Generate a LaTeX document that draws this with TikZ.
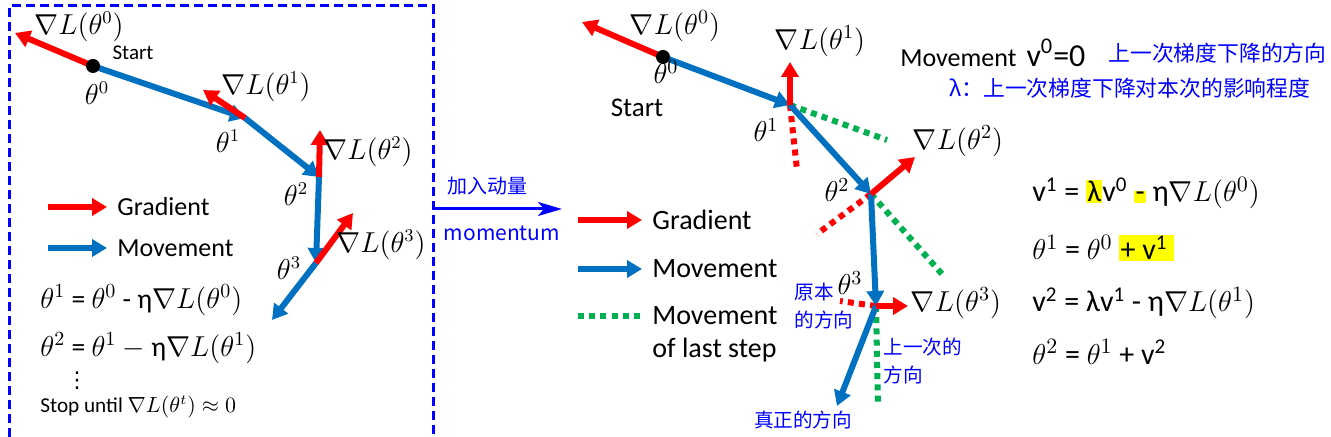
\documentclass[tikz,border=0pt]{standalone}
\usepackage{fontspec}
\setmainfont{Carlito}
\newfontfamily\cjk{Noto Sans CJK SC}
\newfontfamily\symfont{DejaVu Sans}
\usepackage{xcolor}
\usetikzlibrary{arrows.meta,positioning}
\definecolor{gradred}{RGB}{255,0,0}
\definecolor{moveblue}{RGB}{0,112,192}
\definecolor{lastgreen}{RGB}{0,176,80}
\definecolor{noteblue}{RGB}{0,0,255}
\definecolor{hlyellow}{RGB}{255,255,0}
\newcommand{\hlbox}[1]{{\setlength{\fboxsep}{0.6pt}\colorbox{hlyellow}{#1}}}

\begin{document}
\begin{tikzpicture}[
    x=0.5pt, y=-0.5pt,
    grad/.style={-{Triangle[length=7.5pt,width=8.5pt]}, line width=3pt, draw=gradred},
    move/.style={-{Triangle[length=7.5pt,width=8.5pt]}, line width=3pt, draw=moveblue},
    oldgrad/.style={line width=3pt, draw=gradred, dash pattern=on 3pt off 2.6pt},
    last/.style={line width=3pt, draw=lastgreen, dash pattern=on 3pt off 2.6pt},
    txt/.style={inner sep=1pt, font=\fontsize{13}{15}\selectfont},
    eqn/.style={inner sep=1pt, anchor=west, font=\fontsize{13.8}{15}\selectfont},
    bigeqn/.style={inner sep=1pt, anchor=west, font=\fontsize{15}{17}\selectfont},
    mlbl/.style={inner sep=1pt, font=\fontsize{13.5}{15}\selectfont},
    bigmlbl/.style={inner sep=1pt, font=\fontsize{14.5}{16}\selectfont},
    note/.style={inner sep=1pt, text=noteblue, font=\cjk\fontsize{9.8}{14}\selectfont},
    dot/.style={circle, fill=black, inner sep=0pt, minimum size=7pt}
]
\useasboundingbox (0,0) rectangle (1331,437);

\draw[noteblue, line width=1.5pt, dash pattern=on 4.5pt off 2.5pt] (9,437) -- (9,6) -- (433,6) -- (433,437);

\coordinate (a0) at (93,66);
\coordinate (g0) at (15,33);
\coordinate (a1) at (245,118);
\coordinate (g1) at (203,90);
\coordinate (a2) at (319,177);
\coordinate (g2) at (320,130);
\coordinate (a3) at (316,263);
\coordinate (g3) at (353,213);
\coordinate (a4) at (272,320);

\draw[move] (a0) -- (a1);
\draw[move] (a1) -- (a2);
\draw[move] (a2) -- (a3);
\draw[move] (a3) -- (a4);
\draw[grad] (a0) -- (g0);
\draw[grad] (a1) -- (g1);
\draw[grad] (a2) -- (g2);
\draw[grad] (a3) -- (g3);
\node[dot] (start0) at (a0) {};

\node[mlbl] (lg0) at (79,27) {$\nabla L(\theta^0)$};
\node[inner sep=1pt, font=\fontsize{10.5}{12}\selectfont] (lstart) at (133,53) {Start};
\node[mlbl] (lt0) at (97,93) {$\theta^0$};
\node[mlbl] (lg1) at (266,87) {$\nabla L(\theta^1)$};
\node[mlbl] (lt1) at (228,141) {$\theta^1$};
\node[mlbl] (lg2) at (368,152) {$\nabla L(\theta^2)$};
\node[mlbl] (lt2) at (296,194) {$\theta^2$};
\node[mlbl] (lg3) at (381,245) {$\nabla L(\theta^3)$};
\node[mlbl] (lt3) at (289,268) {$\theta^3$};

\coordinate (lgA) at (48,207);
\coordinate (lgB) at (107,207);
\coordinate (lmA) at (48,248);
\coordinate (lmB) at (107,248);
\draw[grad] (lgA) -- (lgB);
\draw[move] (lmA) -- (lmB);
\node[txt, right=4pt of lgB] (lgrad) {Gradient};
\node[txt, right=4pt of lmB] (lmove) {Movement};

\node[eqn] (leq1) at (38,300) {$\theta^1$ = $\theta^0$ - η$\nabla L(\theta^0)$};
\node[eqn] (leq2) at (38,348) {$\theta^2$ = $\theta^1$ $-$ η$\nabla L(\theta^1)$};
\node[inner sep=0pt, font=\symfont\fontsize{11}{12}\selectfont] (ldots) at (77,381) {⋮};
\node[eqn, font=\fontsize{10.6}{12}\selectfont] (lstop) at (38,407) {Stop until $\nabla L(\theta^t) \approx 0$};

\coordinate (mS) at (433,209);
\coordinate (mE) at (562,209);
\draw[noteblue, line width=1.5pt, -{Stealth[length=12pt,width=7pt,inset=3pt]}] (mS) -- (mE);
\node[note, font=\cjk\fontsize{10}{12}\selectfont] (madd) at (487,186) {加入动量};
\node[note, font=\cjk\fontsize{10.5}{12}\selectfont] (mmom) at (502,233) {momentum};

\coordinate (rgA) at (578,220);
\coordinate (rgB) at (642,220);
\coordinate (rmA) at (578,269);
\coordinate (rmB) at (642,269);
\coordinate (rlA) at (578,316);
\coordinate (rlB) at (642,316);
\draw[grad] (rgA) -- (rgB);
\draw[move] (rmA) -- (rmB);
\draw[last] (rlA) -- (rlB);
\node[txt, font=\fontsize{14}{16}\selectfont, right=4pt of rgB] (rgrad) {Gradient};
\node[txt, font=\fontsize{14}{16}\selectfont, right=4pt of rmB] (rmove) {Movement};
\node[txt, font=\fontsize{14}{16}\selectfont, right=4pt of rlB] (rlast) {Movement};
\node[txt, font=\fontsize{14}{16}\selectfont, below=4pt of rlast.south west, anchor=north west] (rlast2) {of last step};

\coordinate (b0) at (663,57);
\coordinate (h0) at (582,22);
\coordinate (b1) at (790,105);
\coordinate (h1) at (790,62);
\coordinate (o1) at (797,170);
\coordinate (p1) at (887,140);
\coordinate (b2) at (871,194);
\coordinate (h2) at (915,157);
\coordinate (o2) at (817,234);
\coordinate (p2) at (942,274);
\coordinate (b3) at (876,306);
\coordinate (h3) at (908,306);
\coordinate (o3) at (840,301);
\coordinate (p3) at (878,406);
\coordinate (b4) at (837,406);

\draw[oldgrad] (b1) -- (o1);
\draw[last] (b1) -- (p1);
\draw[oldgrad] (b2) -- (o2);
\draw[last] (b2) -- (p2);
\draw[oldgrad] (b3) -- (o3);
\draw[last] (b3) -- (p3);
\draw[move] (b0) -- (b1);
\draw[move] (b1) -- (b2);
\draw[move] (b2) -- (b3);
\draw[move] (b3) -- (b4);
\draw[grad] (b0) -- (h0);
\draw[grad] (b1) -- (h1);
\draw[grad] (b2) -- (h2);
\draw[grad] (b3) -- (h3);
\node[dot] (start1) at (b0) {};

\node[bigmlbl] (rg0) at (675,26) {$\nabla L(\theta^0)$};
\node[bigmlbl] (rt0) at (666,72) {$\theta^0$};
\node[txt, font=\fontsize{13.5}{16}\selectfont] (rstart) at (637,108) {Start};
\node[bigmlbl] (rg1) at (820,41) {$\nabla L(\theta^1)$};
\node[bigmlbl] (rt1) at (766,130) {$\theta^1$};
\node[bigmlbl] (rg2) at (958,141) {$\nabla L(\theta^2)$};
\node[bigmlbl] (rt2) at (837,190) {$\theta^2$};
\node[bigmlbl] (rt3) at (850,283) {$\theta^3$};
\node[bigmlbl] (rg3) at (956,303) {$\nabla L(\theta^3)$};

\node[note, align=left, anchor=west] (orig) at (792,306) {原本\\的方向};
\node[note, align=left, anchor=west] (prev) at (881,361) {上一次的\\方向};
\node[note] (real) at (803,420) {真正的方向};

\node[txt, anchor=west] (mv0) at (898,53) {Movement\hspace{5pt}{\fontsize{16}{18}\selectfont v\textsuperscript{0}=0}};
\node[note, anchor=west, font=\cjk\fontsize{10.9}{13}\selectfont] (mvnote) at (1106,53) {上一次梯度下降的方向};
\node[note, anchor=west, font=\cjk\fontsize{10.9}{13}\selectfont] (lamnote) at (947,88) {λ：上一次梯度下降对本次的影响程度};

\node[bigeqn] (req1) at (1030,193) {v\textsuperscript{1} = \hlbox{λ}v\textsuperscript{0} \hlbox{-} η$\nabla L(\theta^0)$};
\node[bigeqn] (req2) at (1030,248) {$\theta^1$ = $\theta^0$ \hlbox{+ v\textsuperscript{1}\,}};
\node[bigeqn] (req3) at (1030,303) {v\textsuperscript{2} = λv\textsuperscript{1} - η$\nabla L(\theta^1)$};
\node[bigeqn] (req4) at (1030,352) {$\theta^2$ = $\theta^1$ + v\textsuperscript{2}};

\end{tikzpicture}
\end{document}
